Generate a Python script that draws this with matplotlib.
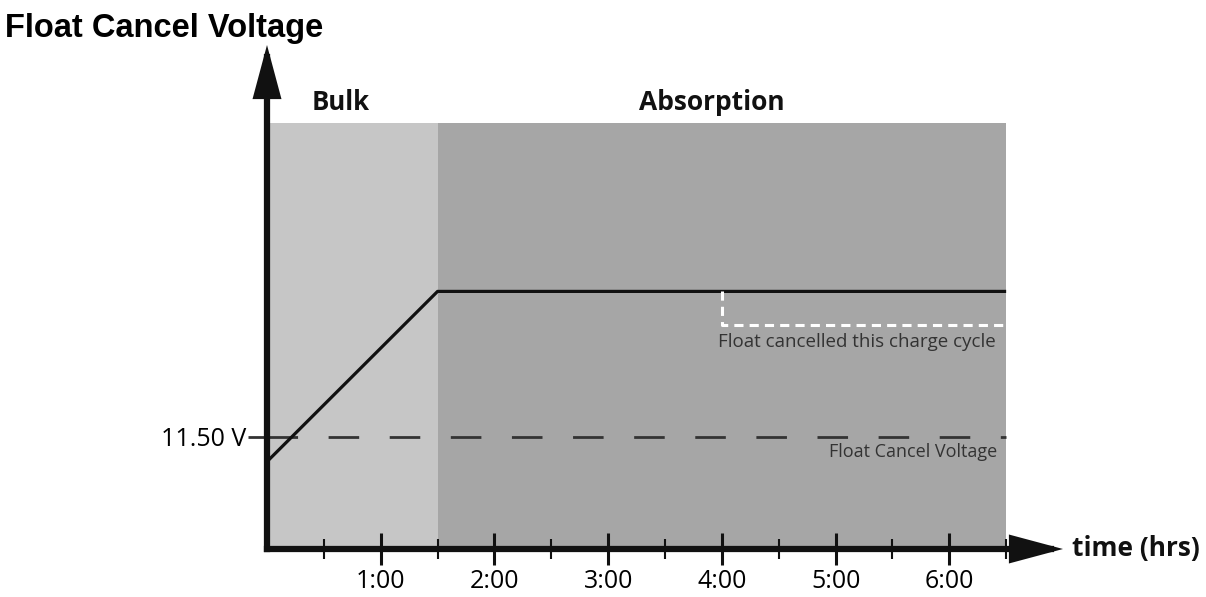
import matplotlib.pyplot as plt
from matplotlib.patches import FancyArrowPatch

# data
stages = ['Bulk', 'Absorption']
stage_start = [0.0, 1.5]
stage_end = [1.5, 6.5]
stage_colors = ['#c6c6c6', '#a6a6a6']
stage_top = 14.3

charge_t = [0.0, 1.5, 6.5]
charge_v = [11.28, 12.8, 12.8]

cancel_t = [4.0, 4.0, 6.5]
cancel_v = [12.8, 12.5, 12.5]

float_cancel_v = 11.5
major_hours = [1, 2, 3, 4, 5, 6]
hour_labels = ['1:00', '2:00', '3:00', '4:00', '5:00', '6:00']
minor_hours = [0.5, 1.5, 2.5, 3.5, 4.5, 5.5, 6.5]

y_min, y_max = 10.5, 15.0
x_min, x_max = 0.0, 7.0

fig = plt.figure(figsize=(12.06, 5.97), dpi=100)
ax = fig.add_axes([267 / 1206, 48 / 597, 796 / 1206, 504 / 597])
ax.set_xlim(x_min, x_max)
ax.set_ylim(y_min, y_max)
for s in ax.spines.values():
    s.set_visible(False)

# stage backgrounds
for name, x0, x1, c in zip(stages, stage_start, stage_end, stage_colors):
    ax.fill_between([x0, x1], y_min, stage_top, color=c, lw=0, zorder=0)
ax.text(0.65, 14.37, 'Bulk', ha='center', va='bottom', fontsize=18.5,
        fontweight='bold', family='Open Sans', color='#111111')
ax.text(3.91, 14.37, 'Absorption', ha='center', va='bottom', fontsize=19,
        fontweight='bold', family='Open Sans', color='#111111')

# float cancel voltage
ax.plot([0, stage_end[-1]], [float_cancel_v] * 2, color='#333333', lw=2,
        dashes=(11, 11), zorder=2)
ax.text(6.42, 11.37, 'Float Cancel Voltage', ha='right', va='center',
        fontsize=13, family='Open Sans', color='#333333')

# charge curve
ax.plot(charge_t, charge_v, color='#111111', lw=2.3, zorder=3,
        solid_capstyle='butt')
ax.plot(cancel_t, cancel_v, color='white', lw=2.2, dashes=(3, 2), zorder=4)
ax.text(3.97, 12.35, 'Float cancelled this charge cycle', ha='left',
        va='center', fontsize=13.5, family='Open Sans', color='#333333')

# axes with arrows
for start, end in [((0, y_min), (0, y_max)), ((0, y_min), (x_max, y_min))]:
    arr = FancyArrowPatch(start, end, arrowstyle='-|>,head_length=28,head_width=7.5',
                          mutation_scale=1, lw=4.5, color='#111111',
                          shrinkA=0, shrinkB=0, zorder=5, clip_on=False,
                          joinstyle='miter', capstyle='projecting')
    ax.add_patch(arr)

# ticks
ax.set_xticks(major_hours)
ax.set_xticklabels(hour_labels, family='Open Sans', fontsize=18)
ax.set_xticks(minor_hours, minor=True)
ax.tick_params(axis='x', which='major', direction='inout', length=23,
               width=2.2, color='#111111', pad=3)
ax.tick_params(axis='x', which='minor', direction='inout', length=14,
               width=1.5, color='#111111')
ax.set_yticks([float_cancel_v])
ax.set_yticklabels(['11.50 V'], family='Open Sans', fontsize=18)
ax.tick_params(axis='y', direction='out', length=14, width=2,
               color='#333333', pad=1)

ax.text(x_max + 0.08, y_min, 'time (hrs)', ha='left', va='center',
        fontsize=19, fontweight='bold', family='Open Sans', color='#111111',
        clip_on=False)

fig.text(5 / 1206, 1 - 28 / 597, 'Float Cancel Voltage', ha='left',
         va='center', fontsize=23.5, fontweight='bold', family='Liberation Sans')

fig.savefig('out.png', dpi=100)
